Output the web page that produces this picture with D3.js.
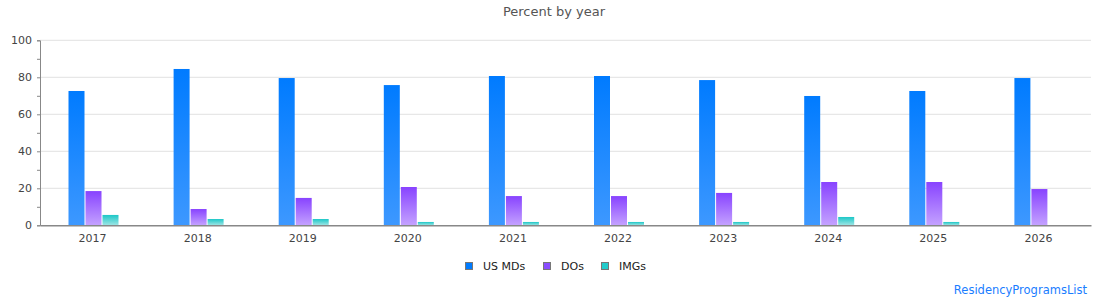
<!DOCTYPE html>
<html><head><meta charset="utf-8">
<script src="https://cdn.jsdelivr.net/npm/d3@7"></script>
<style>body{margin:0;background:#fff;}svg{display:block;font-family:"DejaVu Sans",sans-serif;}</style>
</head><body><svg id="c" width="1110" height="300"></svg>
<script>
const years = ["2017","2018","2019","2020","2021","2022","2023","2024","2025","2026"];
const seriesNames = ["US MDs","DOs","IMGs"];
const usMDs = [72.6,84.5,79.6,75.8,80.7,80.7,78.5,69.9,72.6,79.6];
const DOs   = [18.5,8.8,14.8,20.7,15.8,15.8,17.5,23.4,23.4,19.6];
const IMGs  = [5.6,3.4,3.4,1.8,1.8,1.8,1.8,4.5,1.8,0];
const yTicks = [0,20,40,60,80,100];
const seriesValues = [usMDs, DOs, IMGs];
const colors = [["#007bff","#3d98ff"],["#8843ff","#c4a2ff"],["#1cc7c7","#9ee5e5"]];
const legendColors = ["#007bff","#8a4dff","#22cccc"];

const svg = d3.select("#c");
const m = {l:40, r:1091, t:40.3, b:225.3};
const x = d3.scaleBand().domain(years).range([m.l, m.r]);
const y = d3.scaleLinear().domain([0,100]).range([m.b, m.t]);

const defs = svg.append("defs");
colors.forEach((c,i)=>{
  const g = defs.append("linearGradient").attr("id","g"+i).attr("x1",0).attr("y1",0).attr("x2",0).attr("y2",1);
  g.append("stop").attr("offset","0%").attr("stop-color",c[0]);
  g.append("stop").attr("offset","100%").attr("stop-color",c[1]);
});

// title
svg.append("text").attr("x",554).attr("y",16).attr("text-anchor","middle")
  .attr("font-size",13).attr("fill","#555").text("Percent by year");

// gridlines
svg.append("g").selectAll("line").data(yTicks.filter(d=>d>0)).join("line")
  .attr("x1",m.l).attr("x2",m.r).attr("y1",d=>y(d)).attr("y2",d=>y(d))
  .attr("stroke","#e2e2e2").attr("stroke-width",1);

// y axis
const ya = svg.append("g").attr("transform",`translate(${m.l},0)`)
  .call(d3.axisLeft(y).tickValues(d3.range(0,101,10)).tickSize(3).tickFormat(d=>d%20===0?d:""));
ya.select(".domain").attr("stroke","#888");
ya.selectAll(".tick line").attr("stroke","#888");
ya.selectAll(".tick text").attr("font-size",11).attr("fill","#444").attr("x",-8).attr("font-family","DejaVu Sans");

// bars
const bw = 16, step = 17, off = 28.5;
seriesValues.forEach((vals,si)=>{
  svg.append("g").selectAll("rect").data(vals.map((v,i)=>({v,yr:years[i]}))).join("rect")
    .attr("x",d=>x(d.yr)+off+si*step).attr("width",bw)
    .attr("y",d=>y(d.v)).attr("height",d=>y(0)-y(d.v))
    .attr("fill",`url(#g${si})`);
});

// x axis
const xa = svg.append("g").attr("transform",`translate(0,${m.b})`)
  .call(d3.axisBottom(x).tickSize(0).tickPadding(9));
xa.select(".domain").attr("stroke","#888").attr("stroke-width",1.5);
xa.selectAll(".tick text").attr("font-size",11).attr("fill","#444").attr("font-family","DejaVu Sans");

// legend
const lx = [465,543,601];
const lg = svg.append("g");
seriesNames.forEach((n,i)=>{
  lg.append("rect").attr("x",lx[i]+0.5).attr("y",262.5).attr("width",7).attr("height",7)
    .attr("fill",legendColors[i]).attr("stroke","#777").attr("stroke-width",1);
  lg.append("text").attr("x",lx[i]+18).attr("y",269.5).attr("font-size",11).attr("fill","#222").text(n);
});

// footer
svg.append("text").attr("x",1087).attr("y",294).attr("text-anchor","end")
  .attr("font-size",11.5).attr("fill","#1a7dff").text("ResidencyProgramsList");
</script></body></html>
